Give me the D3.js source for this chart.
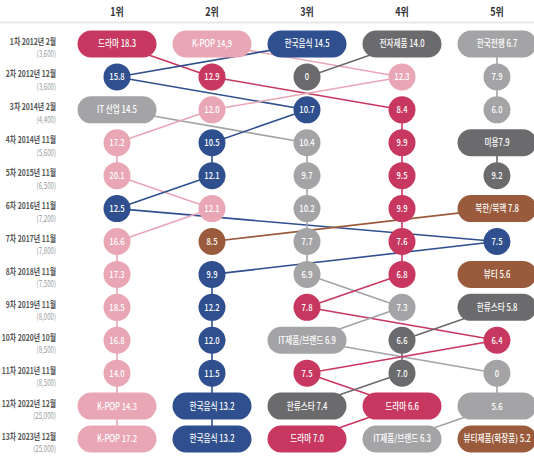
<!DOCTYPE html>
<html>
<head>
<meta charset="utf-8">
<script src="https://cdn.jsdelivr.net/npm/d3@7"></script>
<style>
  body { margin: 0; background: #fff; }
  svg { display: block; font-family: "Noto Sans CJK KR", "Noto Sans", sans-serif; }
</style>
</head>
<body>
<div id="chart"></div>
<script>
// column headers
const ranks = ["1위", "2위", "3위", "4위", "5위"];

// survey rounds and sample sizes
const rounds = ["1차 2012년 2월", "2차 2012년 12월", "3차 2014년 2월", "4차 2014년 11월",
  "5차 2015년 11월", "6차 2016년 11월", "7차 2017년 11월", "8차 2018년 11월",
  "9차 2019년 11월", "10차 2020년 10월", "11차 2021년 11월", "12차 2022년 12월", "13차 2023년 12월"];
const samples = ["(3,600)", "(3,600)", "(4,400)", "(5,600)", "(6,500)", "(7,200)", "(7,800)",
  "(7,500)", "(8,000)", "(8,500)", "(8,500)", "(25,000)", "(25,000)"];

// which item sits at each rank, per round (used for colour and links)
const items = [
  ["drama", "kpop", "food", "elec", "war"],
  ["food", "drama", "elec", "kpop", "war"],
  ["it", "kpop", "food", "drama", "war"],
  ["kpop", "food", "it", "drama", "beautyA"],
  ["kpop", "food", "it", "drama", "beautyA"],
  ["food", "kpop", "it", "drama", "nk"],
  ["kpop", "nk", "it", "drama", "food"],
  ["kpop", "food", "it", "drama", "beautyB"],
  ["kpop", "food", "drama", "it", "star"],
  ["kpop", "food", "it", "star", "drama"],
  ["kpop", "food", "drama", "star", "it"],
  ["kpop", "food", "star", "drama", "it"],
  ["kpop", "food", "drama", "it", "cosm"]
];

// name shown in the cell ("" = value only)
const names = [
  ["드라마", "K-POP", "한국음식", "전자제품", "한국전쟁"],
  ["", "", "", "", ""],
  ["IT 산업", "", "", "", ""],
  ["", "", "", "", "미용"],
  ["", "", "", "", ""],
  ["", "", "", "", "북한/북핵"],
  ["", "", "", "", ""],
  ["", "", "", "", "뷰티"],
  ["", "", "", "", "한류스타"],
  ["", "", "IT제품/브랜드", "", ""],
  ["", "", "", "", ""],
  ["K-POP", "한국음식", "한류스타", "드라마", ""],
  ["K-POP", "한국음식", "드라마", "IT제품/브랜드", "뷰티제품(화장품)"]
];

// share (%) as printed
const values = [
  ["18.3", "14,9", "14.5", "14.0", "6.7"],
  ["15.8", "12.9", "0", "12.3", "7.9"],
  ["14.5", "12.0", "10.7", "8.4", "6.0"],
  ["17.2", "10.5", "10.4", "9.9", "7.9"],
  ["20.1", "12.1", "9.7", "9.5", "9.2"],
  ["12.5", "12.1", "10.2", "9.9", "7.8"],
  ["16.6", "8.5", "7.7", "7.6", "7.5"],
  ["17.3", "9.9", "6.9", "6.8", "5.6"],
  ["18.5", "12.2", "7.8", "7.3", "5.8"],
  ["16.8", "12.0", "6.9", "6.6", "6.4"],
  ["14.0", "11.5", "7.5", "7.0", "0"],
  ["14.3", "13.2", "7.4", "6.6", "5.6"],
  ["17.2", "13.2", "7.0", "6.3", "5.2"]
];

const pillRows = [0, 11, 12];

const color = d3.scaleOrdinal()
  .domain(["drama", "kpop", "food", "elec", "war", "it", "beautyA", "nk", "beautyB", "star", "cosm"])
  .range(["#c8375f", "#e9a6b5", "#2f4f8f", "#6b6b6d", "#a4a4a6", "#a4a4a6", "#6b6b6d", "#9a5b3c", "#9a5b3c", "#6b6b6d", "#9a5b3c"]);

const width = 534, height = 462;
const squeeze = 0.78; // text in the picture is narrow

const svg = d3.select("#chart").append("svg")
  .attr("width", width)
  .attr("height", height);

const x = d3.scalePoint().domain(ranks).range([117, 497]);
const y = d3.scalePoint().domain(rounds).range([44, 439]);

// header
svg.append("g").selectAll("text")
  .data(ranks)
  .enter().append("text")
    .attr("transform", d => "translate(" + x(d) + ",16) scale(" + squeeze + ",1)")
    .attr("text-anchor", "middle")
    .style("font-size", "11.5px")
    .style("font-weight", "700")
    .style("fill", "#333")
    .text(d => d);

svg.append("line")
  .attr("x1", 0).attr("x2", width)
  .attr("y1", 22.5).attr("y2", 22.5)
  .style("stroke", "#e8e8e8")
  .style("stroke-width", 2);

// row labels
const lab = svg.append("g").selectAll("g")
  .data(rounds)
  .enter().append("g")
    .attr("transform", d => "translate(56," + y(d) + ") scale(0.72,1)");

lab.append("text")
  .attr("y", 0.5)
  .attr("text-anchor", "end")
  .style("font-size", "9.5px")
  .style("font-weight", "600")
  .style("fill", "#555")
  .text(d => d);

lab.append("text")
  .attr("y", 13)
  .attr("text-anchor", "end")
  .style("font-size", "8.5px")
  .style("fill", "#999")
  .text((d, i) => samples[i]);

// cells
const cells = [];
rounds.forEach((r, i) => {
  ranks.forEach((k, j) => {
    cells.push({
      row: i, col: j, key: items[i][j],
      cx: x(k), cy: y(r),
      pill: names[i][j] !== "" || pillRows.includes(i),
      label: names[i][j] ? names[i][j] + (names[i][j] === "미용" ? "" : " ") + values[i][j] : values[i][j]
    });
  });
});

// links between the same item in consecutive rounds
const links = [];
for (let i = 0; i < rounds.length - 1; i++) {
  items[i].forEach((key, j) => {
    const k = items[i + 1].indexOf(key);
    if (k >= 0) links.push({key: key, x1: x(ranks[j]), y1: y(rounds[i]), x2: x(ranks[k]), y2: y(rounds[i + 1])});
  });
}

svg.append("g").selectAll("line")
  .data(links)
  .enter().append("line")
    .attr("x1", d => d.x1).attr("y1", d => d.y1)
    .attr("x2", d => d.x2).attr("y2", d => d.y2)
    .style("stroke", d => color(d.key))
    .style("stroke-width", 1.6);

const node = svg.append("g").selectAll("g")
  .data(cells)
  .enter().append("g")
    .attr("transform", d => "translate(" + d.cx + "," + d.cy + ")");

node.filter(d => d.pill).append("rect")
  .attr("x", -39.5).attr("y", -13.5)
  .attr("width", 79).attr("height", 27)
  .attr("rx", 13.5)
  .style("fill", d => color(d.key));

node.filter(d => !d.pill).append("circle")
  .attr("r", 13.5)
  .style("fill", d => color(d.key));

node.append("text")
  .attr("transform", "scale(" + squeeze + ",1)")
  .attr("text-anchor", "middle")
  .attr("dy", "0.35em")
  .style("font-size", "9.8px")
  .style("font-weight", "500")
  .style("fill", "#fff")
  .text(d => d.label);
</script>
</body>
</html>
